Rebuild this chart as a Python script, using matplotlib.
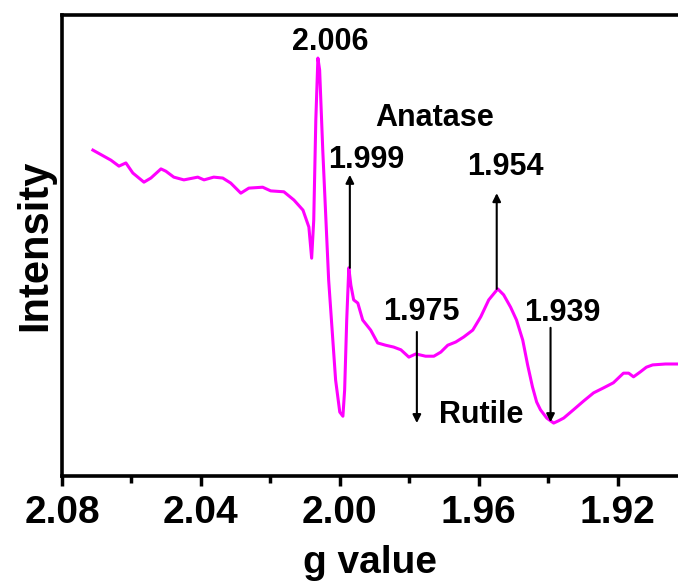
import matplotlib
matplotlib.use('Agg')
import matplotlib.pyplot as plt
import numpy as np

plt.rcParams['font.family'] = ['Liberation Sans', 'DejaVu Sans']
plt.rcParams['font.weight'] = 'bold'

# EPR spectrum (g value, intensity in arb. units)
g = [2.0711, 2.0659, 2.0636, 2.0616, 2.0596, 2.0564, 2.0544, 2.0515, 2.0501,
     2.0478, 2.0449, 2.0409, 2.0391, 2.0363, 2.0337, 2.0314, 2.0285, 2.0262,
     2.0222, 2.0199, 2.0161, 2.0132, 2.0106, 2.0089, 2.0081, 2.0075, 2.0069,
     2.0063, 2.0058, 2.0049, 2.0032, 2.0012, 2.0000, 1.9991, 1.9986, 1.9980,
     1.9974, 1.9968, 1.9960, 1.9948, 1.9934, 1.9911, 1.9891, 1.9868, 1.9845,
     1.9824, 1.9801, 1.9781, 1.9753, 1.9729, 1.9709, 1.9689, 1.9666, 1.9643,
     1.9617, 1.9594, 1.9571, 1.9545, 1.9528, 1.9508, 1.9491, 1.9473, 1.9459,
     1.9445, 1.9433, 1.9422, 1.9404, 1.9384, 1.9370, 1.9355, 1.9327, 1.9298,
     1.9269, 1.9240, 1.9212, 1.9183, 1.9168, 1.9154, 1.9134, 1.9117, 1.9099,
     1.9062, 1.9024]
intensity = [70.5, 68.3, 67.0, 67.7, 65.5, 63.5, 64.4, 66.4, 65.9,
             64.6, 64.0, 64.6, 64.0, 64.6, 64.4, 63.3, 61.1, 62.2,
             62.4, 61.6, 61.4, 59.6, 57.4, 53.7, 46.9, 55.2, 77.1,
             90.6, 88.0, 70.5, 42.1, 20.3, 13.3, 12.4, 18.1, 33.4,
             44.8, 41.0, 37.8, 37.1, 33.4, 31.2, 28.4, 27.9, 27.5,
             26.9, 25.3, 26.0, 25.5, 25.5, 26.4, 27.9, 28.6, 29.7,
             31.2, 34.1, 37.8, 40.2, 38.9, 36.2, 33.4, 29.0, 23.6,
             18.8, 15.5, 13.8, 12.0, 10.9, 11.4, 12.0, 13.8, 15.7,
             17.5, 18.6, 19.7, 21.8, 21.8, 21.0, 22.1, 23.1, 23.6,
             23.8, 23.8]

# labels: text and its centre; arrows: start -> head
labels = ['2.006', 'Anatase', '1.999', '1.954', '1.975', '1.939', 'Rutile']
label_pos = [(2.0026, 94.1), (1.9726, 77.5), (1.9925, 68.3), (1.9522, 66.8),
             (1.9764, 35.1), (1.9359, 34.9), (1.9594, 12.7)]
arrows = [((1.9971, 44.8), (1.9971, 65.1)),
          ((1.9548, 40.2), (1.9548, 61.1)),
          ((1.9778, 30.8), (1.9778, 10.9)),
          ((1.9393, 31.7), (1.9393, 11.1))]

fig = plt.figure(figsize=(6.78, 5.83), dpi=100)
ax = fig.add_axes([62/678, 1 - 476/583, (678-62)/678, (476-15)/583])

ax.plot(g, intensity, color='#ff00ff', linewidth=2.2)

for txt, (x, y) in zip(labels, label_pos):
    ax.text(x, y, txt, ha='center', va='center', fontsize=22, fontweight='bold')

for (x0, y0), (x1, y1) in arrows:
    ax.annotate('', xy=(x1, y1), xytext=(x0, y0),
                arrowprops=dict(arrowstyle='-|>', color='black', lw=1.5,
                                mutation_scale=12, shrinkA=0, shrinkB=0))

ax.set_xlim(2.08, 2.08 - (678 - 61.5) / 3475)
ax.set_ylim(100 * (473 - 476) / 458, 100 * (473 - 15) / 458)
ax.set_xticks([2.08, 2.04, 2.00, 1.96, 1.92])
ax.set_xticklabels(['2.08', '2.04', '2.00', '1.96', '1.92'])
ax.set_xticks([2.06, 2.02, 1.98, 1.94], minor=True)
ax.set_yticks([])
ax.tick_params(axis='x', which='major', direction='out', length=7, width=2.5,
               labelsize=28, pad=7)
ax.tick_params(axis='x', which='minor', direction='out', length=5, width=2.5)
for lbl in ax.get_xticklabels():
    lbl.set_fontweight('bold')

for s in ['left', 'bottom', 'top']:
    ax.spines[s].set_linewidth(2.6)
ax.spines['right'].set_visible(False)

ax.set_xlabel('g value', fontsize=28, fontweight='bold', labelpad=10)
ax.set_ylabel('Intensity', fontsize=30, fontweight='bold', labelpad=5)

fig.savefig('out.png', dpi=100)
